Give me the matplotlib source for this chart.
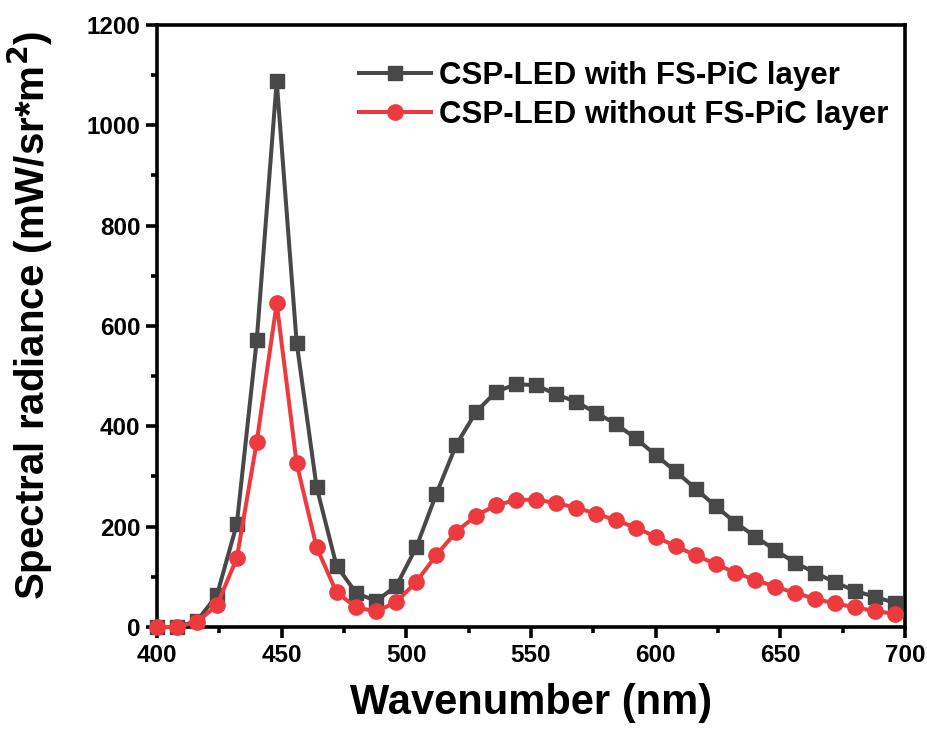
import matplotlib
matplotlib.use("Agg")
from matplotlib import pyplot as plt
from matplotlib.ticker import MultipleLocator

plt.rcParams['font.family'] = ['Liberation Sans', 'DejaVu Sans']
plt.rcParams['font.weight'] = 'bold'

# wavelength grid (nm)
wavelength = [400, 408, 416, 424, 432, 440, 448, 456, 464, 472,
              480, 488, 496, 504, 512, 520, 528, 536, 544, 552,
              560, 568, 576, 584, 592, 600, 608, 616, 624, 632,
              640, 648, 656, 664, 672, 680, 688, 696]

# spectral radiance, mW/sr*m^2
with_layer = [0, 0, 12, 63, 205, 572, 1088, 567, 279, 122,
              67, 52, 82, 159, 265, 363, 429, 469, 484, 482,
              464, 449, 427, 405, 376, 343, 310, 276, 241, 208,
              180, 153, 128, 108, 89, 72, 60, 48]
without_layer = [0, 0, 10, 43, 137, 369, 645, 326, 159, 69,
                 39, 31, 50, 90, 143, 190, 222, 243, 253, 254,
                 247, 238, 226, 213, 198, 180, 161, 143, 126, 108,
                 94, 80, 68, 56, 47, 39, 32, 26]

labels = ['CSP-LED with FS-PiC layer', 'CSP-LED without FS-PiC layer']
gray = '#484848'
red = '#ed3a3e'

fig = plt.figure(figsize=(9.28, 7.36), dpi=100, facecolor='white')
ax = fig.add_axes([0.1692, 0.1481, 0.806, 0.818])

ax.plot(wavelength, with_layer, color=gray, lw=2.9, marker='s', ms=10.5,
        label=labels[0], clip_on=False, zorder=3)
ax.plot(wavelength, without_layer, color=red, lw=2.9, marker='o', ms=11,
        label=labels[1], clip_on=False, zorder=4)

ax.set_xlim(400, 700)
ax.set_ylim(0, 1200)
ax.xaxis.set_major_locator(MultipleLocator(50))
ax.xaxis.set_minor_locator(MultipleLocator(25))
ax.yaxis.set_major_locator(MultipleLocator(200))
ax.yaxis.set_minor_locator(MultipleLocator(100))

for sp in ax.spines.values():
    sp.set_linewidth(2.6)
ax.tick_params(which='major', direction='out', length=8, width=2.6,
               labelsize=17.5, pad=4)
ax.tick_params(which='minor', direction='out', length=4.5, width=2.6)
for lab in ax.get_xticklabels() + ax.get_yticklabels():
    lab.set_fontweight('bold')

ax.set_xlabel('Wavenumber (nm)', fontsize=30, fontweight='bold', labelpad=12)
ax.set_ylabel('Spectral radiance (mW/sr*m$^\\mathbf{2}$)', fontsize=29,
              fontweight='bold')
ax.yaxis.set_label_coords(-0.137, 0.518)

ax.legend(loc='upper right', frameon=False, fontsize=22.5,
          handlelength=2.3, handletextpad=0.25, labelspacing=0.3,
          borderaxespad=0.5, bbox_to_anchor=(1.015, 0.987))

fig.savefig('out.png', dpi=100)
